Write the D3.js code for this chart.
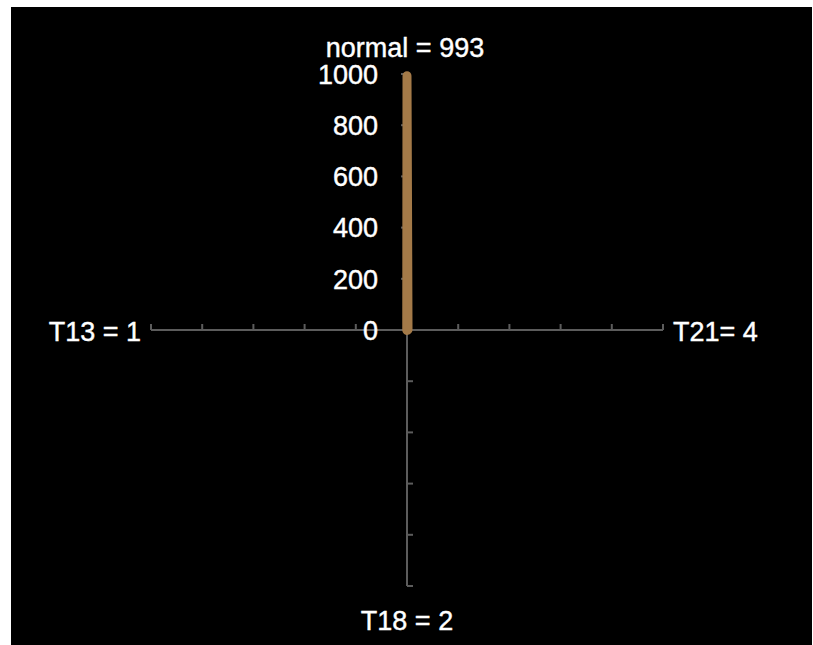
<!DOCTYPE html>
<html><head><meta charset="utf-8">
<script src="https://cdn.jsdelivr.net/npm/d3@7"></script>
<style>html,body{margin:0;padding:0;background:#fff;}svg{display:block;}</style>
</head><body>
<script>
const categories = ["normal", "T21", "T18", "T13"];
const values = [993, 4, 2, 1];
const axisLabels = ["normal = 993", "T21= 4", "T18 = 2", "T13 = 1"];
const tickValues = [0, 200, 400, 600, 800, 1000];

const W = 813, H = 645;
const cx = 407, cy = 330;
const svg = d3.select("body").append("svg").attr("width", W).attr("height", H);
svg.append("rect").attr("x", 11).attr("y", 7).attr("width", 801).attr("height", 640).attr("fill", "#000");

const r = d3.scaleLinear().domain([0, 1000]).range([0, 256]);
const angle = d3.scalePoint().domain(categories).range([0, 2 * Math.PI * 3 / 4]); // clockwise from top
const g = svg.append("g").attr("transform", `translate(${cx},${cy})`);
const font = "'Liberation Sans', Arial, sans-serif";
const axisColor = "#5c5c5c";
const fs = 27;

// tick offsets per axis (direction of tick marks)
const tickDir = {normal: [-6, 0], T21: [0, -6], T18: [6, 0], T13: [0, -6]};
categories.forEach(c => {
  const a = angle(c);
  const pt = v => [Math.sin(a) * r(v), -Math.cos(a) * r(v)];
  const end = pt(1000);
  g.append("line").attr("x1", 0).attr("y1", 0).attr("x2", end[0]).attr("y2", end[1])
    .attr("stroke", axisColor).attr("stroke-width", 2);
  tickValues.slice(1).forEach(v => {
    const p = pt(v);
    g.append("line").attr("x1", p[0]).attr("y1", p[1])
      .attr("x2", p[0] + tickDir[c][0]).attr("y2", p[1] + tickDir[c][1])
      .attr("stroke", axisColor).attr("stroke-width", 2);
  });
});

// series polygon
const line = d3.lineRadial().angle((d, i) => angle(categories[i])).radius(d => r(d)).curve(d3.curveLinearClosed);
g.append("path").attr("d", line(values)).attr("fill", "none")
  .attr("stroke", "#a47a48").attr("stroke-width", 9).attr("stroke-linejoin", "round");

// tick labels on top axis
tickValues.forEach(v => {
  g.append("text").attr("x", -29).attr("y", -r(v)).attr("dy", "0.36em")
    .attr("text-anchor", "end").attr("fill", "#fff").attr("font-family", font)
    .attr("font-size", fs).attr("stroke", "#fff").attr("stroke-width", 0.4).text(v);
});

// axis labels
const labelPos = {
  normal: {x: -2, y: -r(1000) - 27, anchor: "middle"},
  T21: {x: r(1000) + 10, y: 1, anchor: "start"},
  T18: {x: 0, y: r(1000) + 34, anchor: "middle"},
  T13: {x: -r(1000) - 10, y: 1, anchor: "end"}
};
categories.forEach((c, i) => {
  const p = labelPos[c];
  g.append("text").attr("x", p.x).attr("y", p.y).attr("dy", "0.36em")
    .attr("text-anchor", p.anchor).attr("fill", "#fff").attr("font-family", font)
    .attr("font-size", fs).attr("stroke", "#fff").attr("stroke-width", 0.4).text(axisLabels[i]);
});
</script>
</body></html>
